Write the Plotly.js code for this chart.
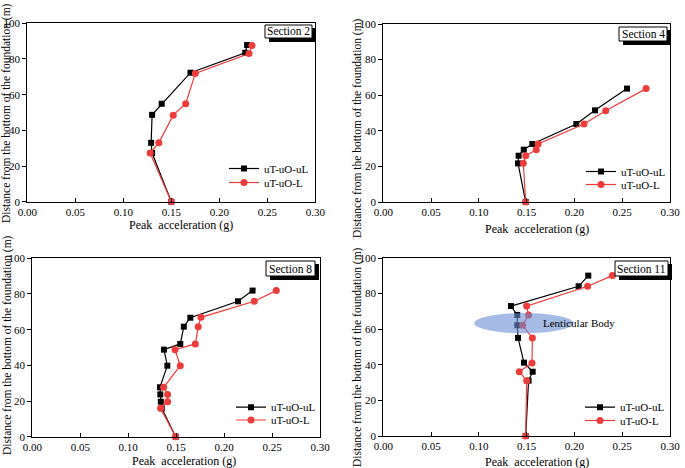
<!DOCTYPE html>
<html>
<head>
<meta charset="utf-8">
<script src="https://cdn.plot.ly/plotly-3.0.1.min.js"></script>
<style>html,body{margin:0;padding:0;background:#fff;}#chart{width:685px;height:468px;}</style>
</head>
<body>
<div id="chart"></div>
<script>
// ---------- DATA ----------
const sectionNames = ["Section 2", "Section 4", "Section 8", "Section 11"];
const seriesNames = ["uT-uO-uL", "uT-uO-L"];
const xTickVals = [0, 0.05, 0.10, 0.15, 0.20, 0.25, 0.30];
const yTickVals = [0, 20, 40, 60, 80, 100];

// Section 2
const s2_uL_acc  = [0.229, 0.227, 0.170, 0.140, 0.130, 0.129, 0.130, 0.150];
const s2_uL_dist = [87.8, 83.5, 72.3, 54.9, 48.7, 33.0, 27.3, 0];
const s2_L_acc   = [0.234, 0.231, 0.175, 0.165, 0.152, 0.137, 0.128, 0.150];
const s2_L_dist  = [87.6, 83.1, 71.9, 54.9, 48.5, 33.0, 27.3, 0];

// Section 4
const s4_uL_acc  = [0.255, 0.2215, 0.202, 0.156, 0.147, 0.1416, 0.141, 0.149];
const s4_uL_dist = [63.7, 51.5, 43.8, 32.6, 29.4, 26.0, 21.7, 0];
const s4_L_acc   = [0.275, 0.2327, 0.210, 0.162, 0.160, 0.149, 0.1465, 0.149];
const s4_L_dist  = [63.7, 51.3, 43.8, 32.6, 29.4, 26.0, 21.7, 0];

// Section 8
const s8_uL_acc  = [0.2297, 0.2145, 0.1648, 0.158, 0.1543, 0.1373, 0.1408, 0.1331, 0.1335, 0.134, 0.135, 0.1495];
const s8_uL_dist = [81.9, 75.9, 66.7, 61.7, 52.0, 48.8, 39.8, 27.7, 23.7, 19.6, 15.9, 0];
const s8_L_acc   = [0.2544, 0.2315, 0.1759, 0.173, 0.170, 0.1488, 0.1543, 0.137, 0.1411, 0.1411, 0.1338, 0.1495];
const s8_L_dist  = [81.9, 75.9, 66.9, 61.7, 52.0, 48.8, 39.8, 27.7, 23.7, 19.6, 15.9, 0];

// Section 11
const s11_uL_acc  = [0.2145, 0.2044, 0.1336, 0.1402, 0.1402, 0.141, 0.1472, 0.1563, 0.152, 0.149];
const s11_uL_dist = [90.1, 84.1, 73.0, 68.0, 62.2, 55.1, 41.2, 36.1, 31.1, 0];
const s11_L_acc   = [0.2397, 0.2138, 0.150, 0.152, 0.1458, 0.156, 0.1556, 0.1423, 0.150, 0.149];
const s11_L_dist  = [90.1, 84.1, 73.0, 68.0, 62.2, 55.1, 41.0, 36.1, 31.1, 0];

// Lenticular body extent (Section 11)
const lensAcc  = [0.0952, 0.199];
const lensDist = [57.7, 69.1];
const lensLabel = "Lenticular Body";

const xTitle = "Peak  acceleration (g)";
const yTitle = "Distance from the bottom of the foundation (m)";

// ---------- LAYOUT HELPERS ----------
const W = 685, H = 468;
const px = x => x / W;
const py = y => 1 - y / H;
const FONT = "Liberation Serif, Times New Roman, serif";
const RED = "#ee3b3b";

const panels = [
  {box:[27.3,315.3,23.3,201.7], acc:[s2_uL_acc,s2_L_acc], dist:[s2_uL_dist,s2_L_dist],
   legX:224, legRows:[168,182], lab:[265,312,25,38], xt:[181,225], yt:[6,113]},
  {box:[383.3,670,24,202], acc:[s4_uL_acc,s4_L_acc], dist:[s4_uL_dist,s4_L_dist],
   legX:581, legRows:[171,184], lab:[619,667,27,41], xt:[537,229], yt:[357,128]},
  {box:[32.3,320,258.3,436.7], acc:[s8_uL_acc,s8_L_acc], dist:[s8_uL_dist,s8_L_dist],
   legX:231, legRows:[406.7,419.5], lab:[266,315,261,276], xt:[184,460.7], yt:[7,345]},
  {box:[383.3,670,258,436], acc:[s11_uL_acc,s11_L_acc], dist:[s11_uL_dist,s11_L_dist],
   legX:580, legRows:[406.7,420], lab:[615,668,261,276], xt:[537,461.7], yt:[357,357]}
];

const data = [];
const layout = {
  width: W, height: H,
  margin: {l:0, r:0, t:0, b:0},
  showlegend: true,
  paper_bgcolor: "#fff", plot_bgcolor: "#fff",
  font: {family: FONT, size: 11, color: "#000"},
  shapes: [], annotations: []
};

let legIdx = 0;
panels.forEach((p, i) => {
  const n = i === 0 ? "" : String(i + 1);
  const xa = "x" + n, ya = "y" + n;
  const colors = ["#000", RED];
  const symbols = ["square", "circle"];
  const sizes = [6, 7];
  for (let k = 0; k < 2; k++) {
    legIdx++;
    const legName = legIdx === 1 ? "legend" : "legend" + legIdx;
    data.push({
      type: "scatter", mode: "lines+markers",
      x: p.acc[k], y: p.dist[k], name: seriesNames[k],
      xaxis: xa, yaxis: ya, legend: legName, showlegend: true, cliponaxis: false,
      line: {color: colors[k], width: 1.2},
      marker: {symbol: symbols[k], size: sizes[k], color: colors[k]}
    });
    layout[legName] = {
      visible: true,
      x: px(p.legX), y: py(p.legRows[k] - 14), xanchor: "left", yanchor: "top",
      bgcolor: "rgba(0,0,0,0)", borderwidth: 0, tracegroupgap: 0,
      itemwidth: 30,
      font: {family: FONT, size: 11, color: "#000"}
    };
  }
  const [x0, x1, y0, y1] = p.box;
  layout["xaxis" + n] = {
    domain: [px(x0), px(x1)], anchor: ya, range: [0, 0.3],
    tickmode: "array", tickvals: xTickVals, tickformat: ".2f",
    ticks: "inside", ticklen: 4, tickwidth: 1, tickcolor: "#000",
    showline: true, linecolor: "#000", linewidth: 1, mirror: true,
    showgrid: false, zeroline: false,
    tickfont: {family: FONT, size: 11, color: "#000"}
  };
  layout["yaxis" + n] = {
    domain: [py(y1), py(y0)], anchor: xa, range: [0, 100],
    tickmode: "array", tickvals: yTickVals,
    ticks: "outside", ticklen: 4, tickwidth: 1, tickcolor: "#000",
    showline: true, linecolor: "#000", linewidth: 1, mirror: true,
    showgrid: false, zeroline: false,
    tickfont: {family: FONT, size: 11, color: "#000"}
  };
  // section label with shadow
  const [bx0, bx1, by0, by1] = p.lab;
  layout.shapes.push({type: "rect", xref: "paper", yref: "paper",
    x0: px(bx0 + 4), x1: px(bx1 + 4), y0: py(by1 + 4), y1: py(by0 + 3),
    fillcolor: "#000", line: {width: 0}});
  layout.shapes.push({type: "rect", xref: "paper", yref: "paper",
    x0: px(bx0), x1: px(bx1), y0: py(by1), y1: py(by0),
    fillcolor: "#fff", line: {color: "#000", width: 1}});
  layout.annotations.push({xref: "paper", yref: "paper",
    x: px((bx0 + bx1) / 2), y: py((by0 + by1) / 2), xanchor: "center", yanchor: "middle",
    text: sectionNames[i], showarrow: false, font: {family: FONT, size: 11.5, color: "#000"}});
  // axis titles
  layout.annotations.push({xref: "paper", yref: "paper",
    x: px(p.xt[0]), y: py(p.xt[1]), xanchor: "center", yanchor: "middle",
    text: xTitle, showarrow: false, font: {family: FONT, size: 12, color: "#000"}});
  layout.annotations.push({xref: "paper", yref: "paper",
    x: px(p.yt[0]), y: py(p.yt[1]), xanchor: "center", yanchor: "middle",
    text: yTitle, textangle: -90, showarrow: false, font: {family: FONT, size: 11.5, color: "#000"}});
});

// lenticular body ellipse in Section 11
layout.shapes.push({type: "circle", xref: "x4", yref: "y4", layer: "above",
  x0: lensAcc[0], x1: lensAcc[1], y0: lensDist[0], y1: lensDist[1],
  fillcolor: "rgba(105,140,210,0.6)", line: {width: 0}});
layout.annotations.push({xref: "x4", yref: "y4", x: 0.1655, y: (lensDist[0] + lensDist[1]) / 2,
  xanchor: "left", yanchor: "middle", text: lensLabel, showarrow: false,
  font: {family: FONT, size: 11, color: "#000"}});

Plotly.newPlot("chart", data, layout, {displayModeBar: false, staticPlot: true});
</script>
</body>
</html>
